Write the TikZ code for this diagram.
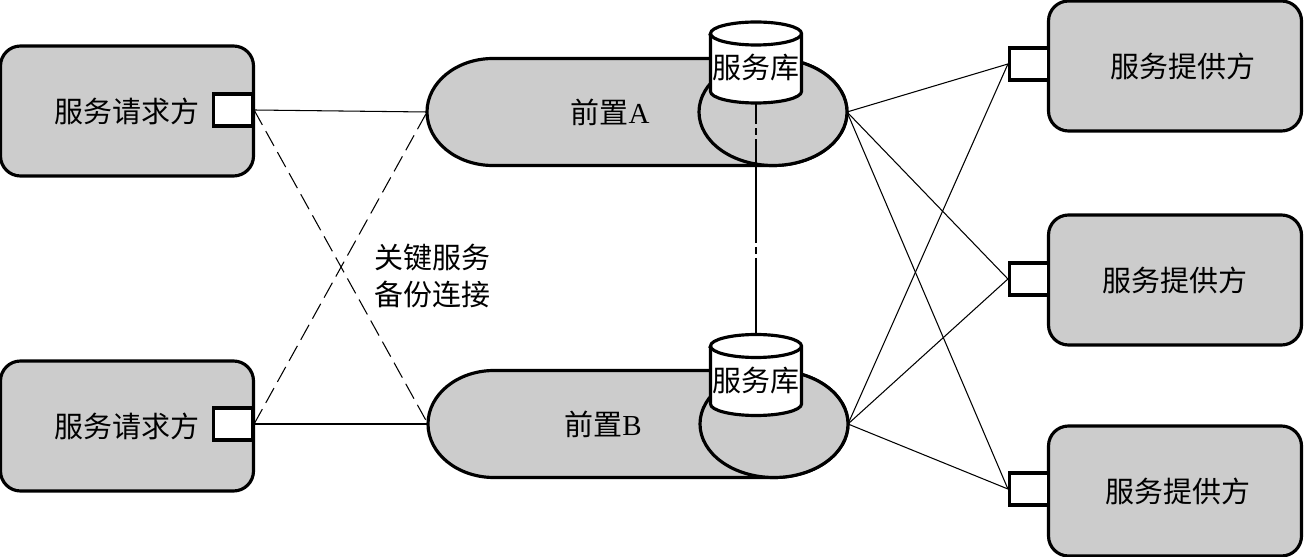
\documentclass[tikz,border=0pt]{standalone}
\usepackage{fontspec}
\setmainfont{Liberation Serif}
\newfontfamily\cjk{Noto Sans CJK SC}
\usetikzlibrary{shapes.geometric}
\definecolor{boxgray}{RGB}{204,204,204}
\begin{document}
\begin{tikzpicture}
  [x=0.2mm,y=-0.2mm,
   every node/.style={font=\cjk\fontsize{16.5pt}{21pt}\selectfont},
   outline/.style={draw,line width=1.8pt},
   party/.style={outline,fill=boxgray,rounded corners=4mm,minimum width=50.6mm,minimum height=26mm},
   port/.style={outline,fill=white,minimum width=7.8mm,minimum height=6.4mm,inner sep=0pt},
   front/.style={minimum width=84mm,minimum height=21.4mm,outer sep=0pt},
   store/.style={outline,fill=boxgray,ellipse,minimum width=29.6mm,minimum height=21.4mm},
   link/.style={line width=0.6pt},
   backup/.style={line width=0.6pt,dash pattern=on 9.7pt off 4pt},
   mirror/.style={line width=0.6pt,dash pattern=on 59pt off 2.3pt on 4pt off 2.3pt,dash phase=47pt}]
  \useasboundingbox (0,0) rectangle (1304,557);

  \node[party] (reqA) at (127,111) {服务请求方\hspace{9mm}};
  \node[party] (reqB) at (127,426) {服务请求方\hspace{9mm}};
  \node[port] (pA) at (233,110) {};
  \node[port] (pB) at (233,424) {};

  \node[front] (fA) at (637,112) {};
  \node[front] (fB) at (638,424) {};
  \foreach \f in {fA,fB}
    \draw[outline,fill=boxgray] ([xshift=13.2mm]\f.north west) -- ([xshift=-14.8mm]\f.north east)
      arc[start angle=90,end angle=-90,x radius=14.8mm,y radius=10.7mm]
      -- ([xshift=13.2mm]\f.south west)
      arc[start angle=270,end angle=90,x radius=13.2mm,y radius=10.7mm] -- cycle;
  \node[store] (eA) at (773,112) {};
  \node[store] (eB) at (774,424) {};
  \node (tA) at (610,112) {前置{\rmfamily A}};
  \node (tB) at (603,424) {前置{\rmfamily B}};

  \coordinate (cA) at (756,62.5);
  \coordinate (cB) at (756,375);
  \draw[mirror] ([yshift=-8.1mm]cA) -- ([yshift=8.1mm]cB);
  \foreach \c in {cA,cB} {
    \draw[outline,fill=white] ([shift={(-45.5,-29)}]\c) -- ([shift={(-45.5,29)}]\c)
      arc[start angle=180,end angle=360,x radius=9.1mm,y radius=2.3mm]
      -- ([shift={(45.5,-29)}]\c)
      arc[start angle=0,end angle=180,x radius=9.1mm,y radius=2.3mm] -- cycle;
    \draw[outline] ([shift={(-45.5,-29)}]\c) arc[start angle=180,end angle=360,x radius=9.1mm,y radius=2.3mm];
  }
  \node (dA) at (756,68) {服务库};
  \node (dB) at (756,381) {服务库};

  \node[party] (sA) at (1175,66) {\hspace{3mm}服务提供方};
  \node[party] (sB) at (1175,280) {服务提供方};
  \node[party] (sC) at (1175,491) {\hspace{1mm}服务提供方};
  \node[port] (qA) at (1029,64) {};
  \node[port] (qB) at (1029,279) {};
  \node[port] (qC) at (1029,489) {};

  \node[align=left] (note) at (432,276) {关键服务\\备份连接};

  \draw[link] (pA.east) -- (fA.west);
  \draw[link] (pB.east) -- (fB.west);
  \draw[backup] (pA.east) -- (fB.west);
  \draw[backup] (pB.east) -- (fA.west);

  \foreach \from/\to in {fA/qA,fA/qB,fA/qC,fB/qA,fB/qB,fB/qC}
    \draw[link] (\from.east) -- (\to.west);

\end{tikzpicture}
\end{document}
